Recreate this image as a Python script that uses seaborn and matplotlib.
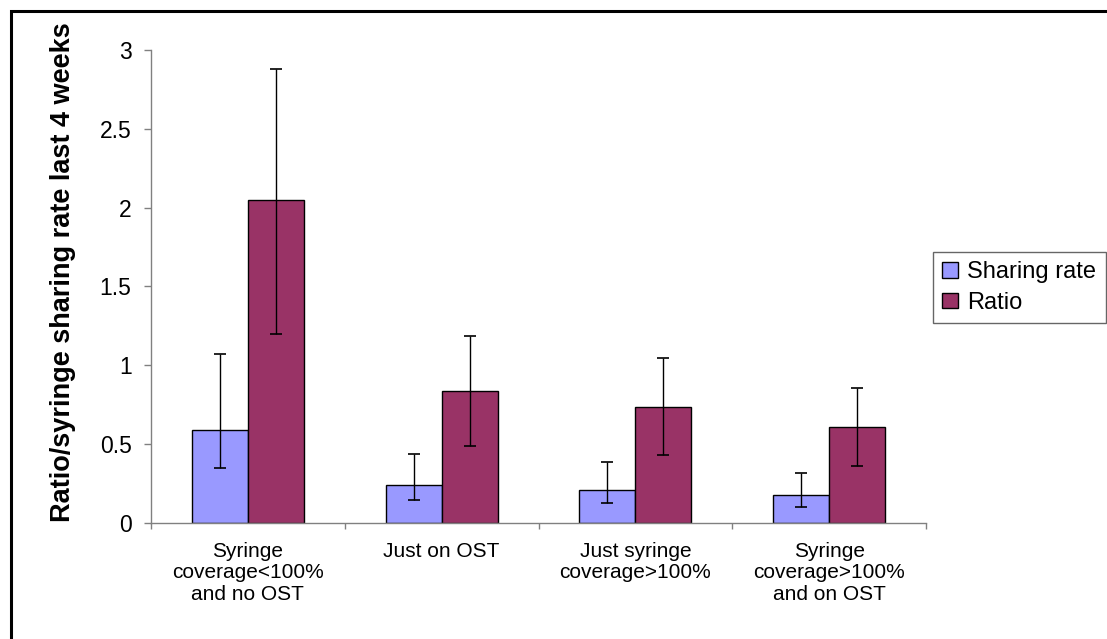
import numpy as np
import pandas as pd
import matplotlib
matplotlib.use("Agg")
import matplotlib.pyplot as plt
from matplotlib.patches import Rectangle, Patch
from matplotlib.ticker import FuncFormatter
import seaborn as sns

categories = ["Syringe\ncoverage<100%\nand no OST", "Just on OST",
              "Just syringe\ncoverage>100%", "Syringe\ncoverage>100%\nand on OST"]
series_names = ["Sharing rate", "Ratio"]
sharing = [0.59, 0.237, 0.21, 0.176]
sharing_lo = [0.345, 0.142, 0.125, 0.100]
sharing_hi = [1.07, 0.436, 0.385, 0.317]
ratio = [2.046, 0.836, 0.732, 0.607]
ratio_lo = [1.20, 0.487, 0.430, 0.362]
ratio_hi = [2.88, 1.187, 1.043, 0.857]
yticks = [0, 0.5, 1, 1.5, 2, 2.5, 3]
colors = ["#9999FF", "#993366"]

sns.set_style("white")
plt.rcParams["font.family"] = ["Liberation Sans", "DejaVu Sans"]
plt.rcParams["text.color"] = "black"
plt.rcParams["axes.labelcolor"] = "black"
plt.rcParams["xtick.labelcolor"] = "black"
plt.rcParams["ytick.labelcolor"] = "black"

df = pd.DataFrame({
    "group": categories * 2,
    "series": [series_names[0]] * 4 + [series_names[1]] * 4,
    "value": sharing + ratio,
})

W, H = 1107, 639
fig = plt.figure(figsize=(W / 100, H / 100), dpi=100)
ax = fig.add_axes([151 / W, 116.3 / H, (926 - 151) / W, (522.7 - 50) / H])

sns.barplot(data=df, x="group", y="value", hue="series", order=categories,
            hue_order=series_names, palette=colors, width=0.578,
            edgecolor="black", linewidth=1, errorbar=None, saturation=1,
            legend=False, ax=ax)

los = [sharing_lo, ratio_lo]
his = [sharing_hi, ratio_hi]
vals = [sharing, ratio]
bar_containers = list(ax.containers)
for i, cont in enumerate(bar_containers):
    xs = [p.get_x() + p.get_width() / 2 for p in cont.patches]
    v = np.array(vals[i])
    lower = v - np.array(los[i])
    upper = np.array(his[i]) - v
    ax.errorbar(xs, v, yerr=[lower, upper], fmt="none", ecolor="black",
                elinewidth=1, capsize=4.6, capthick=1.2, zorder=5)

ax.set_xlim(-0.5, 3.5)
ax.set_ylim(0, 3)
ax.set_yticks(yticks)
ax.yaxis.set_major_formatter(FuncFormatter(lambda v, p: f"{v:g}"))
ax.set_xlabel("")
ax.set_ylabel("Ratio/syringe sharing rate last 4 weeks", fontsize=19.5,
              fontweight="bold", color="black")
ax.yaxis.set_label_coords(-0.097, 0.53)

for s in ["top", "right"]:
    ax.spines[s].set_visible(False)
for s in ["left", "bottom"]:
    ax.spines[s].set_color("#808080")
    ax.spines[s].set_linewidth(1)

ax.tick_params(axis="y", which="major", direction="out", length=5, width=1,
               color="#808080", labelsize=16.5, pad=9, left=True,
               labelcolor="black")
ax.tick_params(axis="x", which="major", length=0, labelsize=15, pad=14,
               labelcolor="black")
ax.set_xticks([-0.5, 0.5, 1.5, 2.5, 3.5], minor=True)
ax.tick_params(axis="x", which="minor", direction="out", length=4.5, width=1,
               color="#808080", bottom=True)
for lab in ax.get_xticklabels():
    lab.set_linespacing(1.15)

handles = [Patch(facecolor=c, edgecolor="black", linewidth=1) for c in colors]
leg = fig.legend(handles, series_names, loc="upper left",
                 bbox_to_anchor=(933 / W, 1 - 252 / H),
                 bbox_transform=fig.transFigure, frameon=True, fancybox=False,
                 fontsize=17, handlelength=0.65, handleheight=0.65,
                 handletextpad=0.4, borderpad=0.4, labelspacing=0.35,
                 borderaxespad=0)
leg.get_frame().set_edgecolor("#404040")
leg.get_frame().set_linewidth(1)
for t in leg.get_texts():
    t.set_color("black")

fig.patches.append(Rectangle((11 / W, -0.1), 1.2, (1 - 11 / H) + 0.1,
                             transform=fig.transFigure, fill=False,
                             edgecolor="black", linewidth=2.2, clip_on=False))

fig.savefig("out.png", dpi=100)
